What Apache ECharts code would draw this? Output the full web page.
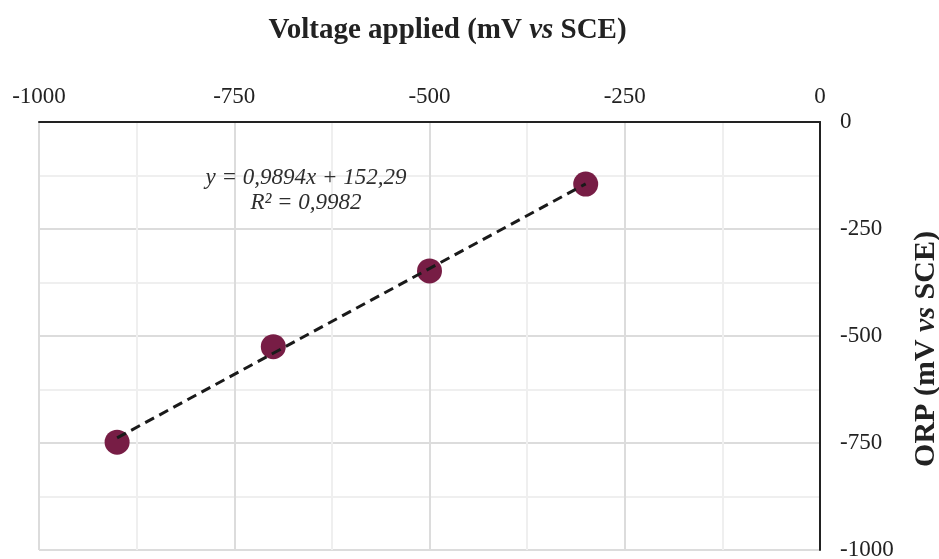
<!DOCTYPE html>
<html>
<head>
<meta charset="utf-8">
<script src="https://cdn.jsdelivr.net/npm/echarts@6/dist/echarts.min.js"></script>
<style>
  html, body { margin: 0; padding: 0; background: #fff; }
  #chart { width: 939px; height: 559px; }
</style>
</head>
<body>
<div id="chart"></div>
<script>
// measured points (mV vs SCE)
const voltageApplied = [-900, -700, -500, -300];
const orpValues = [-748, -525, -348, -145];
// linear trendline as printed on the chart
const trendSlope = 0.9894;
const trendIntercept = 152.29;
const trendX = [-900, -300];
const equationLines = ["y = 0,9894x + 152,29", "R² = 0,9982"];

const serif = "'Liberation Serif', 'DejaVu Serif', serif";

const chartDom = document.getElementById("chart");
const myChart = echarts.init(chartDom);

const points = voltageApplied.map((x, i) => [x, orpValues[i]]);
const trendLine = trendX.map((x) => [x, trendSlope * x + trendIntercept]);

const nameStyle = (size) => ({
  fontFamily: serif,
  fontSize: size,
  fontWeight: "bold",
  color: "#222",
  rich: {
    i: {
      fontFamily: serif,
      fontSize: size,
      fontWeight: "bold",
      fontStyle: "italic",
      color: "#222",
    },
  },
});

const option = {
  animation: false,
  grid: {
    left: 39,
    right: 119,
    top: 122,
    bottom: 9,
    containLabel: false,
    outerBoundsMode: "none",
  },
  xAxis: {
    type: "value",
    position: "top",
    min: -1000,
    max: 0,
    interval: 250,
    name: "Voltage applied (mV {i|vs} SCE)",
    nameLocation: "middle",
    nameGap: 77,
    // title sits a little right of the plot centre
    nameTextStyle: Object.assign(nameStyle(29), { padding: [0, 0, 0, 36] }),
    axisLine: { show: true, onZero: false, lineStyle: { color: "#222", width: 2 } },
    axisTick: { show: false },
    axisLabel: {
      fontFamily: serif,
      fontSize: 23,
      color: "#222",
      margin: 14,
      formatter: (v) => String(v),
    },
    splitLine: { show: true, lineStyle: { color: "#dcdcdc", width: 2 } },
    minorTick: { show: false, splitNumber: 2 },
    minorSplitLine: { show: true, lineStyle: { color: "#efefef", width: 2 } },
  },
  yAxis: {
    type: "value",
    position: "right",
    min: -1000,
    max: 0,
    interval: 250,
    name: "ORP (mV {i|vs} SCE)",
    nameLocation: "middle",
    nameRotate: 90,
    nameGap: 91,
    nameTextStyle: Object.assign(nameStyle(30), { padding: [0, 26, 0, 0] }),
    axisLine: { show: true, onZero: false, lineStyle: { color: "#222", width: 2 } },
    axisTick: { show: false },
    axisLabel: {
      fontFamily: serif,
      fontSize: 23,
      color: "#222",
      margin: 20,
      formatter: (v) => String(v),
    },
    splitLine: { show: true, lineStyle: { color: "#dcdcdc", width: 2 } },
    minorTick: { show: false, splitNumber: 2 },
    minorSplitLine: { show: true, lineStyle: { color: "#efefef", width: 2 } },
  },
  graphic: [
    {
      type: "text",
      z: 100,
      x: 306,
      y: 165,
      style: {
        text: equationLines.join("\n"),
        font: "italic 23px " + serif,
        fill: "#2e2e2e",
        align: "center",
        verticalAlign: "top",
        lineHeight: 25,
      },
    },
  ],
  series: [
    {
      name: "Trendline",
      type: "line",
      data: trendLine,
      symbol: "none",
      silent: true,
      z: 3,
      lineStyle: { color: "#1a1a1a", width: 3, type: [10, 6] },
    },
    {
      name: "ORP",
      type: "scatter",
      data: points,
      symbol: "circle",
      symbolSize: 25,
      z: 2,
      itemStyle: { color: "#771d45", opacity: 1 },
    },
  ],
};
myChart.setOption(option);
</script>
</body>
</html>
